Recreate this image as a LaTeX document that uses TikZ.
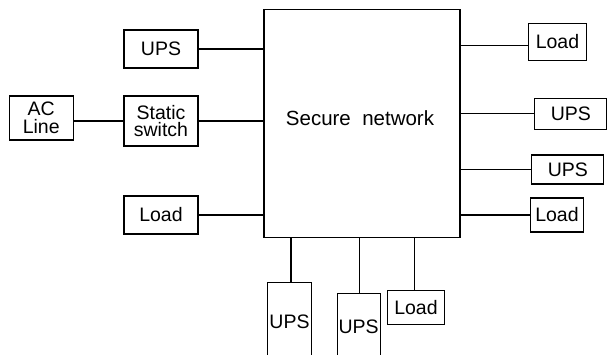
\documentclass[tikz,border=0pt]{standalone}
\usepackage{fontspec}
\setmainfont{Liberation Sans}
\usetikzlibrary{positioning}

\begin{document}
\begin{tikzpicture}[x=1pt,y=-1pt,
  box/.style={draw, line width=1.1pt, inner sep=0pt, align=center,
    font=\fontsize{19.5}{17.5}\selectfont},
  wire/.style={line width=1.1pt}]
\useasboundingbox (0,0) rectangle (608,354);
\clip (0,0) rectangle (608,354);

\node[box, minimum width=196pt, minimum height=228pt] (net) at (362,123.6) {};
\node[font=\fontsize{20.5}{22}\selectfont] (nettext) at (360,118) {Secure~~network};

\node[box, minimum width=74pt, minimum height=38pt] (upsa) at (161,49) {UPS};
\node[box, minimum width=64pt, minimum height=44pt] (ac) at (41.2,118) {AC\\Line};
\node[box, minimum width=74pt, minimum height=50pt] (sw) at (161,121) {Static\\switch};
\node[box, minimum width=74pt, minimum height=38pt] (loada) at (161,215) {Load};

\node[box, minimum width=58pt, minimum height=37pt] (loadb) at (557.5,41.7) {Load};
\node[box, minimum width=72pt, minimum height=31pt] (upsb) at (570.8,113.7) {UPS};
\node[box, minimum width=72pt, minimum height=29pt] (upsc) at (567.9,169.5) {UPS};
\node[box, minimum width=53pt, minimum height=34pt] (loadc) at (557,215) {Load};

\node[box, minimum width=44pt, minimum height=78pt] (upsd) at (289.5,321.7) {UPS};
\node[box, minimum width=43pt, minimum height=66pt] (upse) at (358.7,326.3) {UPS};
\node[box, minimum width=57pt, minimum height=34pt] (loadd) at (416,307.9) {Load};

\draw[wire] (upsa.east) -- (upsa.east -| net.west);
\draw[wire] (ac.east |- sw.west) -- (sw.west);
\draw[wire] (sw.east) -- (sw.east -| net.west);
\draw[wire] (loada.east) -- (loada.east -| net.west);

\draw[wire] ([yshift=-4pt]loadb.west) -- ([yshift=-4pt]loadb.west -| net.east);
\draw[wire] (upsb.west) -- (upsb.west -| net.east);
\draw[wire] (upsc.west) -- (upsc.west -| net.east);
\draw[wire] (loadc.west) -- (loadc.west -| net.east);

\draw[wire] ([xshift=1.5pt]upsd.north) -- ([xshift=1.5pt]upsd.north |- net.south);
\draw[wire] ([xshift=1pt]upse.north) -- ([xshift=1pt]upse.north |- net.south);
\draw[wire] ([xshift=-1.7pt]loadd.north) -- ([xshift=-1.7pt]loadd.north |- net.south);

\end{tikzpicture}
\end{document}
